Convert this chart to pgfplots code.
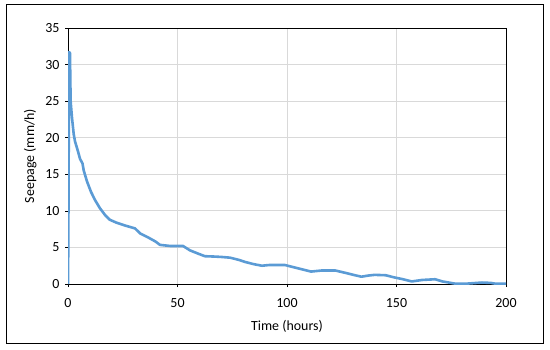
\documentclass[border=0pt]{standalone}
\usepackage{fontspec}
\setmainfont{Carlito}
\usepackage{pgfplots}
\pgfplotsset{compat=1.18}
\definecolor{xlBlue}{HTML}{5B9BD5}
\definecolor{xlGrid}{HTML}{D9D9D9}

\begin{document}
\begin{tikzpicture}[x=1bp,y=1bp]
\useasboundingbox (0,0) rectangle (550,349);
\draw[black, line width=1bp] (6,6) rectangle (543,344);
\begin{axis}[
  at={(68bp,65bp)}, anchor=south west,
  scale only axis, width=438bp, height=256bp,
  xmin=0, xmax=200, ymin=0, ymax=35,
  xtick={0,50,...,200}, ytick={0,5,...,35},
  grid=major, grid style={xlGrid, line width=0.9bp},
  axis line style={black, line width=0.9bp},
  tick align=outside, major tick length=3bp,
  tick style={black, line width=0.7bp},
  xtick pos=bottom, ytick pos=left,
  font=\fontsize{14}{16}\selectfont,
  tick label style={font=\fontsize{14}{16}\selectfont},
  /pgf/number format/assume math mode=true,
  xticklabel style={yshift=-8bp},
  yticklabel style={xshift=-2bp},
  xlabel={Time (hours)}, ylabel={Seepage (mm/h)},
  xlabel style={yshift=-6bp}, ylabel style={yshift=2bp},
]
\addplot[xlBlue, line width=2.6bp, line join=round] coordinates {
(0,0) (0.15,6) (0.3,16) (0.45,31.7) (0.9,31.6) (1.2,25) (1.8,22.8)
(2.6,20.5) (3.2,19.5) (4.5,18.2) (5.5,17.1) (6.6,16.5) (7.2,15.5)
(8.7,14) (10.5,12.6) (12.3,11.5) (14.5,10.4) (17,9.4) (19,8.8)
(22,8.4) (26,8.0) (30.6,7.6) (33,6.9) (37,6.3) (40,5.8) (42,5.35)
(46.6,5.2) (52.5,5.2) (55.7,4.6) (59,4.2) (62.5,3.8) (67,3.75)
(70,3.7) (74,3.6) (78,3.3) (81,3.0) (85,2.7) (88.6,2.5) (92,2.6)
(96.8,2.6) (99,2.6) (103,2.3) (107,2.0) (111,1.7) (116,1.85)
(122,1.85) (127,1.5) (131,1.2) (134,1.0) (137,1.15) (140,1.25)
(145,1.2) (149,0.9) (153,0.65) (157,0.35) (161.6,0.55) (167.6,0.65)
(171,0.35) (176.7,0.05) (182,0.05) (189,0.2) (193,0.15) (195,0.05) (200,0.05)
};
\end{axis}
\end{tikzpicture}
\end{document}
